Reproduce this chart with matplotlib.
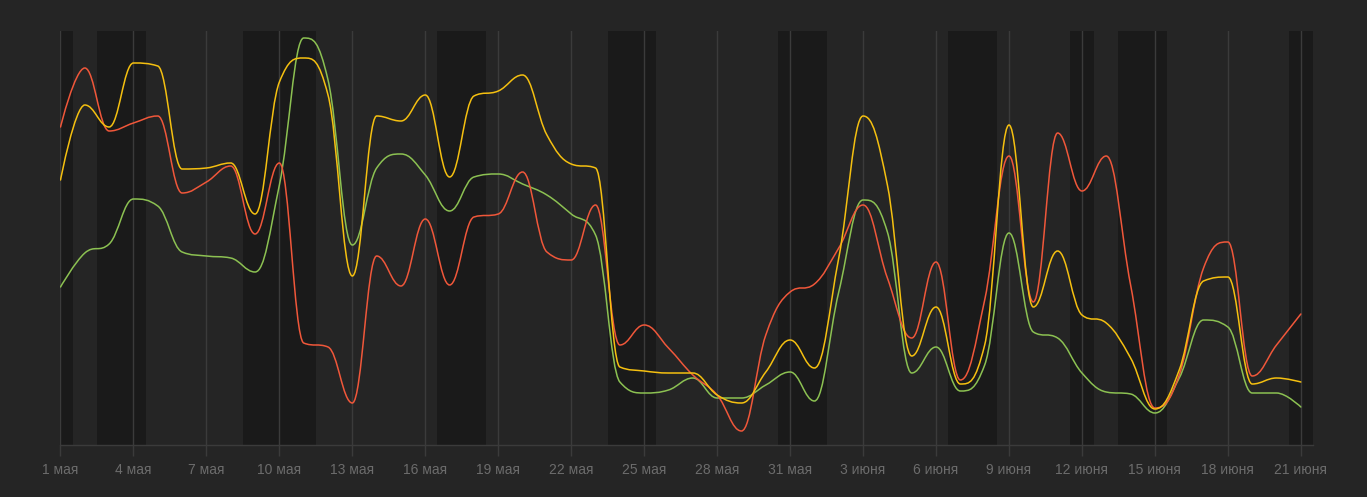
import matplotlib
matplotlib.use("Agg")
import matplotlib.pyplot as plt
from matplotlib.path import Path
from matplotlib.patches import PathPatch

# Daily values, 1 May .. 21 June (day index 0..51)
red = [318, 377, 314, 322, 329, 252, 263, 279, 211, 282,
       102, 98, 42, 189, 159, 226, 160, 228, 231, 273,
       193, 185, 240, 100, 120, 97, 70, 50, 14, 110,
       153, 161, 197, 240, 167, 107, 183, 65, 145, 289,
       143, 312, 254, 289, 160, 37, 70, 177, 203, 69,
       100, 131]
yellow = [265, 340, 318, 382, 379, 276, 277, 282, 231, 363,
          387, 350, 169, 329, 324, 350, 268, 349, 354, 370,
          310, 281, 277, 78, 74, 72, 72, 50, 42, 73,
          105, 77, 187, 329, 260, 89, 138, 61, 100, 320,
          138, 194, 130, 122, 87, 36, 75, 164, 168, 61,
          67, 63]
green = [158, 192, 201, 246, 239, 193, 189, 187, 173, 260,
         407, 365, 200, 277, 291, 270, 234, 268, 271, 261,
         250, 231, 210, 63, 52, 55, 67, 47, 47, 60,
         73, 44, 153, 245, 213, 72, 98, 54, 80, 212,
         113, 107, 72, 53, 51, 32, 67, 125, 118, 52,
         52, 38]

# Weekends and holidays (day index)
off_days = [0, 2, 3, 8, 9, 10, 16, 17, 23, 24, 30, 31, 37, 38, 42, 44, 45, 51]

tick_days = list(range(0, 52, 3))
tick_labels = ["1 мая", "4 мая", "7 мая", "10 мая", "13 мая", "16 мая",
               "19 мая", "22 мая", "25 мая", "28 мая", "31 мая", "3 июня",
               "6 июня", "9 июня", "12 июня", "15 июня", "18 июня", "21 июня"]

BG = "#252525"
BAND = "#1a1a1a"
GRID = "#3b3b3b"
LABEL = "#6c6c6c"
COLORS = {"red": "#f0573a", "yellow": "#f5c010", "green": "#8cc152"}


def spline_path(xs, ys, smoothing=1.5):
    """Cubic Bezier path through the points with clamped control points."""
    n = len(xs)
    denom = smoothing + 1
    left = [None] * n
    right = [None] * n
    for i in range(1, n - 1):
        px, py = xs[i], ys[i]
        lx, ly = xs[i - 1], ys[i - 1]
        nx, ny = xs[i + 1], ys[i + 1]
        lcx = (smoothing * px + lx) / denom
        lcy = (smoothing * py + ly) / denom
        rcx = (smoothing * px + nx) / denom
        rcy = (smoothing * py + ny) / denom
        corr = 0.0
        if rcx != lcx:
            corr = (rcy - lcy) * (rcx - px) / (rcx - lcx) + py - rcy
        lcy += corr
        rcy += corr
        if lcy > ly and lcy > py:
            lcy = max(ly, py)
            rcy = 2 * py - lcy
        elif lcy < ly and lcy < py:
            lcy = min(ly, py)
            rcy = 2 * py - lcy
        if rcy > ny and rcy > py:
            rcy = max(ny, py)
            lcy = 2 * py - rcy
        elif rcy < ny and rcy < py:
            rcy = min(ny, py)
            lcy = 2 * py - rcy
        left[i] = (lcx, lcy)
        right[i] = (rcx, rcy)
    verts = [(xs[0], ys[0])]
    codes = [Path.MOVETO]
    for i in range(1, n):
        c1 = right[i - 1] if right[i - 1] is not None else (xs[i - 1], ys[i - 1])
        c2 = left[i] if left[i] is not None else (xs[i], ys[i])
        verts += [c1, c2, (xs[i], ys[i])]
        codes += [Path.CURVE4] * 3
    return Path(verts, codes)


plt.rcParams["font.family"] = ["Liberation Sans", "DejaVu Sans"]

fig = plt.figure(figsize=(13.67, 4.97), dpi=100, facecolor=BG)
W, H = 1367, 497
ax = fig.add_axes([60.5 / W, (H - 445) / H, (1313 - 60.5) / W, (445 - 31) / H])
ax.set_facecolor(BG)
ax.set_xlim(0, 51.5)
ax.set_ylim(0, 414)

for d in off_days:
    ax.axvspan(d - 0.5, d + 0.5, color=BAND, lw=0, zorder=0)

for d in tick_days:
    ax.axvline(d, color=GRID, lw=1, zorder=1)

days = list(range(len(red)))
for name, vals in [("green", green), ("red", red), ("yellow", yellow)]:
    p = spline_path(days, vals)
    ax.add_patch(PathPatch(p, fill=False, edgecolor=COLORS[name], lw=1.1,
                           zorder=3, capstyle="round", joinstyle="round"))

for s in ["top", "left", "right"]:
    ax.spines[s].set_visible(False)
ax.spines["bottom"].set_color(GRID)
ax.spines["bottom"].set_linewidth(1)

ax.set_yticks([])
ax.set_xticks(tick_days)
ax.set_xticklabels(tick_labels)
ax.tick_params(axis="x", colors=GRID, length=8, width=1, pad=5,
               labelcolor=LABEL, labelsize=10)

fig.savefig("out.png", dpi=100, facecolor=BG)
